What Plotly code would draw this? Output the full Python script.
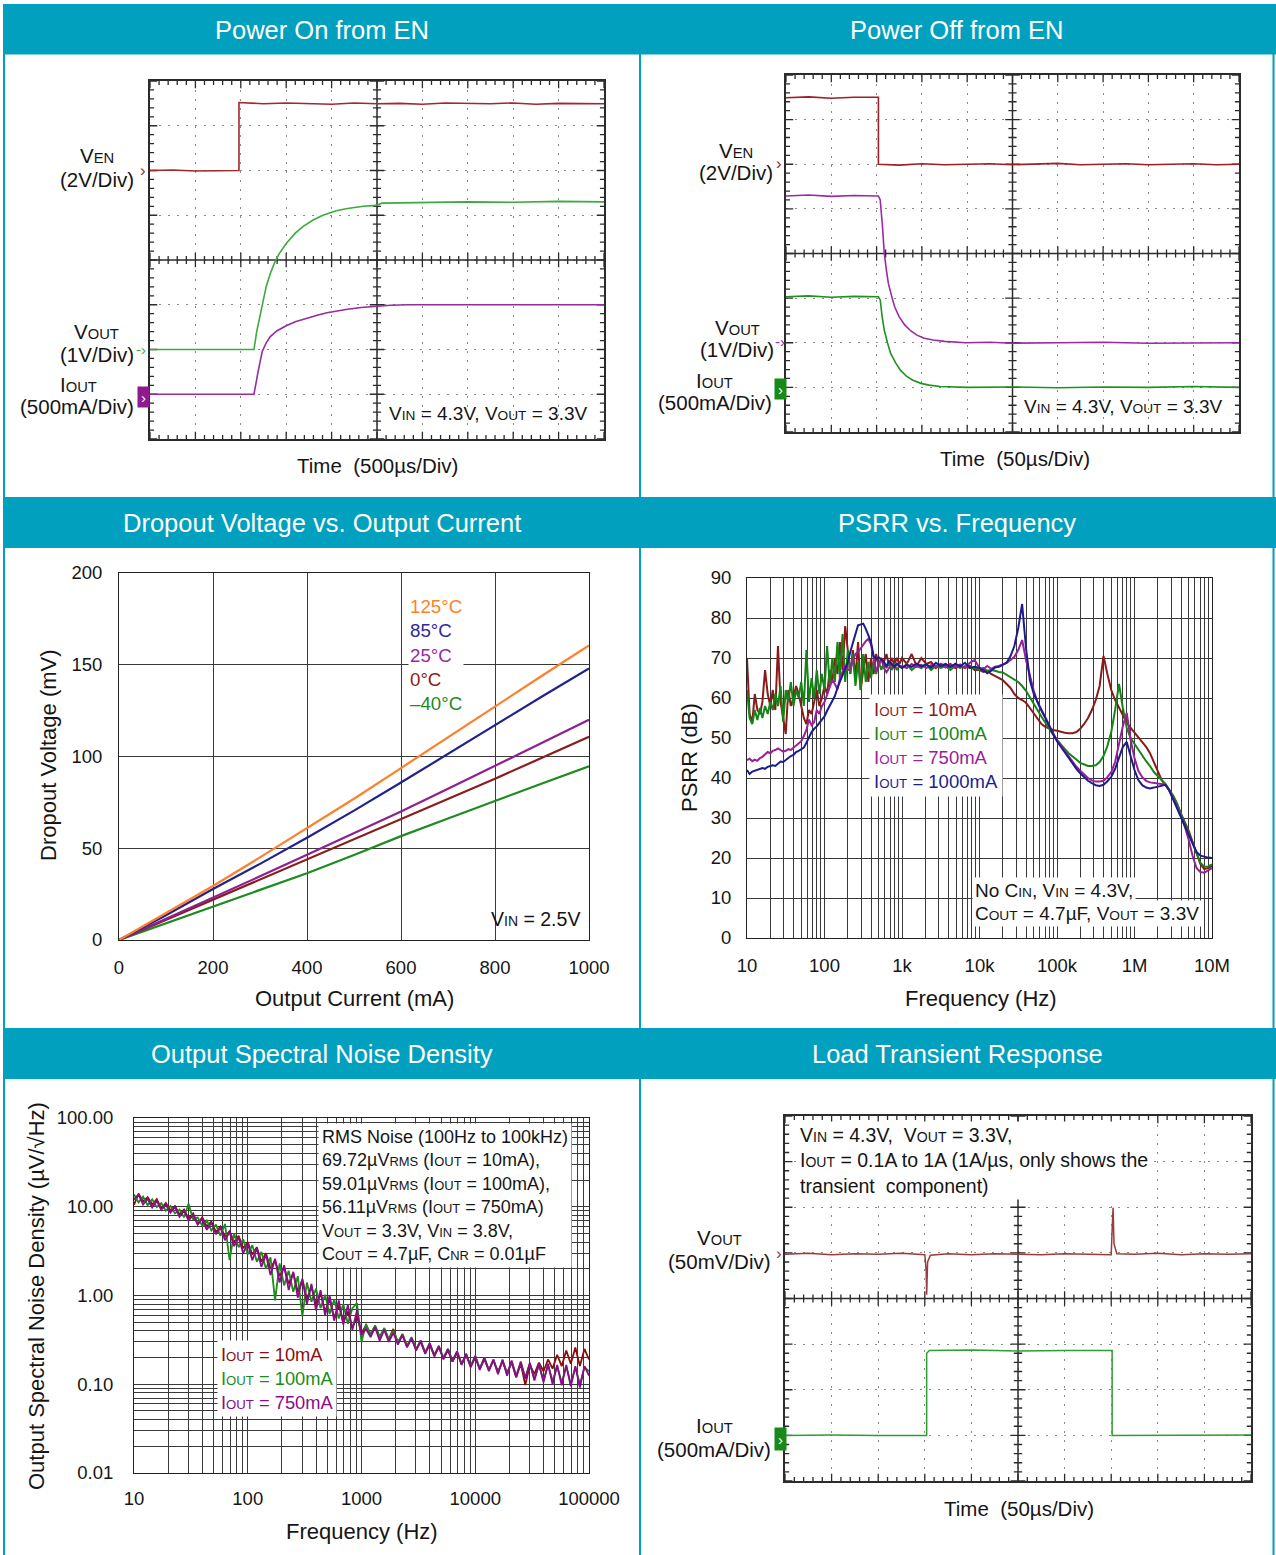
import plotly.graph_objects as go

W, H = 1276, 1555
TEAL = "#00A0BE"
FONT = "Liberation Sans, Arial, Helvetica, sans-serif"
INK = "#151515"

# ============================ DATA ============================
# --- Power On from EN (oscilloscope divisions: x 0-10, y 0-8)
on_ven_t = [0, 0.5, 1.0, 1.5, 1.96, 1.96, 2.5, 3.0, 3.5, 4.0, 4.5, 5.0, 5.5, 6.0, 6.5, 7.0, 7.5, 8.0, 8.5, 9.0, 9.5, 10.0]
on_ven_v = [6.0, 6.01, 5.99, 6.0, 6.0, 7.52, 7.49, 7.51, 7.5, 7.48, 7.51, 7.49, 7.5, 7.48, 7.51, 7.5, 7.49, 7.51, 7.48, 7.5, 7.5, 7.49]
on_vout_t = [0, 1.0, 2.0, 2.29, 2.35, 2.42, 2.5, 2.56, 2.65, 2.74, 2.85, 3.0, 3.2, 3.36, 3.6, 3.81, 4.1, 4.35, 4.7, 4.98, 5.11, 6.0, 7.0, 8.0, 9.0, 10.0]
on_vout_v = [2.0, 2.0, 2.01, 2.0, 2.4, 2.74, 3.1, 3.41, 3.7, 3.93, 4.15, 4.37, 4.6, 4.74, 4.9, 5.0, 5.1, 5.15, 5.2, 5.22, 5.27, 5.28, 5.3, 5.29, 5.31, 5.3]
on_iout_t = [0, 1.0, 2.0, 2.29, 2.38, 2.47, 2.56, 2.65, 2.8, 3.0, 3.2, 3.45, 3.7, 3.9, 4.1, 4.35, 4.65, 4.98, 5.3, 5.7, 6.5, 7.5, 8.5, 10.0]
on_iout_v = [1.0, 1.0, 1.01, 1.0, 1.5, 1.95, 2.15, 2.29, 2.42, 2.53, 2.62, 2.7, 2.77, 2.82, 2.86, 2.9, 2.94, 2.97, 2.99, 3.0, 3.0, 3.01, 3.0, 3.0]

# --- Power Off from EN
off_ven_t = [0, 0.5, 1.0, 1.5, 2.04, 2.04, 2.5, 3.0, 3.5, 4.0, 4.5, 5.0, 5.5, 6.0, 6.5, 7.0, 7.5, 8.0, 8.5, 9.0, 9.5, 10.0]
off_ven_v = [7.49, 7.51, 7.48, 7.5, 7.5, 6.0, 5.98, 6.01, 5.99, 6.0, 6.01, 5.99, 6.0, 6.02, 5.99, 6.0, 6.01, 5.99, 6.0, 6.01, 5.99, 6.0]
off_vout_t = [0, 0.5, 1.0, 1.5, 2.04, 2.08, 2.13, 2.17, 2.22, 2.26, 2.33, 2.4, 2.5, 2.62, 2.75, 2.89, 3.05, 3.25, 3.5, 3.96, 4.5, 5.0, 6.0, 7.0, 8.0, 9.0, 10.0]
off_vout_v = [5.29, 5.31, 5.28, 5.3, 5.29, 5.2, 4.6, 4.0, 3.6, 3.33, 3.05, 2.8, 2.58, 2.4, 2.27, 2.17, 2.1, 2.06, 2.03, 2.0, 2.01, 1.99, 2.0, 2.01, 1.99, 2.0, 2.0]
off_iout_t = [0, 0.5, 1.0, 1.5, 2.04, 2.08, 2.12, 2.17, 2.24, 2.31, 2.42, 2.53, 2.66, 2.8, 2.98, 3.16, 3.4, 3.6, 4.0, 5.0, 6.0, 7.0, 8.0, 9.0, 10.0]
off_iout_v = [3.03, 3.05, 3.02, 3.04, 3.03, 2.96, 2.6, 2.28, 2.0, 1.76, 1.55, 1.38, 1.25, 1.16, 1.09, 1.05, 1.02, 1.01, 1.0, 1.01, 0.99, 1.01, 1.0, 1.02, 1.0]

# --- Load Transient Response
lt_vout_t = [0, 0.5, 1.0, 1.5, 2.0, 2.5, 3.0, 3.03, 3.04, 3.06, 3.12, 3.5, 4.0, 4.5, 5.0, 5.5, 6.0, 6.5, 7.0, 7.02, 7.04, 7.06, 7.12, 7.5, 8.0, 8.5, 9.0, 9.5, 10.0]
lt_vout_v = [4.97, 4.99, 4.96, 4.98, 4.97, 4.99, 4.96, 4.6, 4.08, 4.8, 4.95, 4.98, 4.96, 4.98, 4.97, 4.96, 4.98, 4.97, 4.96, 5.5, 5.99, 5.2, 4.98, 4.97, 4.99, 4.96, 4.98, 4.97, 4.98]
lt_iout_t = [0, 1.0, 2.0, 3.04, 3.04, 3.1, 4.0, 5.0, 6.0, 7.02, 7.02, 7.1, 8.0, 9.0, 10.0]
lt_iout_v = [1.0, 1.01, 1.0, 1.0, 2.8, 2.86, 2.87, 2.85, 2.86, 2.86, 1.0, 1.0, 1.01, 1.0, 1.01]

# --- Dropout Voltage vs. Output Current
do_current = [0, 100, 200, 300, 400, 500, 600, 700, 800, 900, 1000]
do_125 = [0, 14.5, 29.4, 45.0, 60.8, 77.0, 93.7, 110.5, 127.4, 144.0, 160.5]
do_85 = [0, 13.5, 27.8, 41.5, 55.7, 70.5, 85.8, 101.5, 117.3, 132.7, 148.0]
do_25 = [0, 11.5, 23.0, 34.7, 46.5, 58.2, 70.0, 82.4, 94.9, 107.5, 120.0]
do_0 = [0, 11.0, 22.0, 32.8, 43.8, 54.8, 65.8, 76.8, 87.9, 99.3, 110.8]
do_m40 = [0, 9.0, 18.0, 27.0, 36.4, 46.3, 56.6, 66.2, 75.9, 85.3, 94.7]

# --- PSRR vs. Frequency
psrr_freq = [
    10, 10.8, 11.7, 12.6, 13.6, 14.7, 15.8, 17.1, 18.5, 20.0, 21.5, 23.2, 25.1, 27.1, 29.3,
    31.6, 34.1, 36.8, 39.8, 43.0, 46.4, 50.1, 54.1, 58.4, 63.1, 68.1, 73.6, 79.4, 85.8, 92.6,
    100, 108, 117, 126, 136, 147, 158, 171, 185, 200, 215, 232, 251, 271, 293,
    316, 341, 368, 398, 430, 464, 501, 541, 584, 631, 681, 736, 794, 858, 926,
    1000, 1155, 1334, 1540, 1778, 2054, 2371, 2738, 3162, 3652, 4217, 4870, 5623, 6494, 7499, 8660,
    10000, 11220, 12589, 14125, 15849, 17783, 19953, 22387, 25119, 28184, 31623, 35481, 39811, 44668, 50119,
    56234, 63096, 70795, 79433, 89125, 100000, 112202, 125893, 141254, 158489, 177828, 199526, 223872, 251189, 281838,
    316228, 354813, 398107, 446684, 501187, 562341, 630957, 707946, 794328, 891251, 1000000, 1122018, 1258925, 1412538, 1584893,
    1778279, 1995262, 2238721, 2511886, 2818383, 3162278, 3548134, 3981072, 4466836, 5011872, 5623413, 6309573, 7079458, 7943282, 8912509,
    10000000]
psrr_10mA = [
    70, 56, 54, 61, 57, 56, 59, 67, 61, 58, 62, 57, 73, 59, 55, 51, 62, 58, 60, 63,
    61, 58, 55, 53.5, 57, 56, 59, 62, 58, 60, 63, 61, 67, 64, 70, 66, 74, 67, 78, 71,
    66, 72, 65, 74, 62, 67, 71, 64, 70, 66, 71, 68, 70, 69, 71, 68, 70, 68.5, 70, 68.5,
    70, 68.5, 71, 68, 70, 68.5, 69, 67.5, 68.5, 68, 68.5, 67.5, 68, 67.5, 68, 67,
    67, 66.5, 66.8, 66, 65.5, 65, 64.5, 63.5, 62.5, 61, 60, 59.5, 58.8, 57.5, 56.2,
    55, 53.5, 52.8, 52.3, 52, 51.8, 51.5, 51.3, 51.2, 51.2, 51.5, 52.3, 53.5, 55, 57,
    59.5, 63, 70.5, 66, 62, 59.5, 57.5, 55.5, 53.8, 52.5, 51.3, 50.2, 49, 47.8, 46.2,
    44, 41.5, 39.5, 38.2, 37, 35.5, 33.5, 31, 29, 26.8, 24, 21.5, 18.5, 17.2, 17.5, 18]
psrr_100mA = [
    62, 55, 53.5, 57, 54.5, 57.5, 55, 58, 56, 59, 57, 61, 58, 63, 54, 62, 59, 64, 58, 62,
    60, 64, 58, 72, 59, 65, 60, 67, 61, 66, 62, 73, 63, 70, 64, 74, 65, 76, 64, 72,
    66, 71, 63, 69, 62, 71, 64, 69, 65, 69, 66, 69, 67, 69, 67.5, 69, 67, 68.5, 67, 68,
    67.5, 68.5, 67, 68, 67.5, 68.5, 67, 68, 67.5, 68, 67, 68, 67.5, 68, 67.5, 67.5,
    67, 67.5, 66.8, 67, 66.8, 66.5, 66.4, 65.8, 65.2, 64.6, 64, 63, 61.8, 60.2, 58.5,
    57, 55.3, 53.8, 52.2, 50.8, 49.5, 48.5, 47.3, 46.2, 45.3, 44.6, 43.8, 43.3, 43, 43,
    43.2, 44, 45.5, 48, 51.5, 57, 63.5, 57.5, 52.5, 50, 48.5, 47, 45.5, 44.2, 43,
    41.5, 40.5, 39.5, 38.5, 37, 35.5, 33.5, 31, 28.5, 26.3, 23.5, 20.8, 18.8, 17.8, 17.9, 18.4]
psrr_750mA = [
    44.5, 44.8, 44.2, 44.6, 44.3, 45.0, 45.3, 45.8, 46.5, 46.2, 46.8, 47.0, 47.4, 47.0, 46.6,
    46.8, 47.2, 47.0, 47.5, 48.0, 48.6, 49.2, 50.5, 52.0, 54.6, 53.2, 54.0, 57.0, 56.0, 58.0,
    59.0, 61.0, 62.5, 64.5, 63.5, 62.2, 65.0, 66.5, 68.0, 67.0, 67.2, 69.5, 71.0, 71.5, 72.5,
    73.5, 74.2, 74.8, 73.5, 70.0, 66.5, 68.5, 69.8, 67.5, 66.4, 67.5, 68.5, 67.5, 68.5, 67.8,
    68, 67.5, 68.5, 67.8, 68.3, 67.5, 68.2, 67.8, 68.5, 67.6, 68.2, 67.8, 68.4, 67.5, 68.8, 69.5,
    67.5, 67.2, 68.0, 67.3, 67.8, 68.0, 68.4, 68.8, 69.5, 70.3, 72.0, 74.5, 69.5, 65.3, 61.8,
    59.0, 57.0, 55.0, 53.0, 51.2, 49.5, 48.2, 46.8, 45.5, 44.0, 42.8, 41.8, 40.8, 40.0, 39.4,
    39.1, 39.1, 39.3, 40.2, 41.5, 44.0, 48.5, 53.0, 56.3, 49.5, 45.0, 41.8, 40.2, 39.3, 38.9,
    38.7, 38.6, 38.5, 38.3, 36.8, 35.0, 32.8, 30.5, 27.8, 24.5, 20.5, 17.5, 16.5, 16.3, 16.8, 17.5]
psrr_1000mA = [
    42.0, 41.0, 41.6, 41.8, 42.0, 42.2, 42.5, 42.3, 42.8, 43.0, 43.2, 43.0, 43.6, 44.1, 44.0,
    44.5, 45.2, 45.5, 45.8, 46.5, 46.8, 47.2, 47.6, 48.8, 50.4, 51.5, 52.3, 52.9, 53.8, 54.6,
    55.4, 56.8, 58.0, 59.0, 60.5, 62.5, 64.0, 65.5, 67.5, 69.0, 71.5, 73.5, 76.0, 78.2, 78.5,
    78.6, 77.3, 75.5, 74.0, 70.5, 69.8, 70.2, 69.5, 69.0, 68.0, 69.2, 68.5, 67.8, 68.6, 68.0,
    67.5, 68.3, 67.8, 68.6, 67.9, 68.4, 67.6, 68.8, 68.0, 68.5, 67.7, 68.6, 67.9, 68.8, 67.5, 67.8,
    67.5, 67.0, 66.2, 66.8, 67.6, 67.8, 68.2, 68.8, 70.5, 73.0, 77.5, 83.5, 72.5, 64.5, 61.0,
    58.8, 56.8, 55.0, 52.8, 51.0, 49.2, 47.8, 46.2, 44.8, 43.6, 42.3, 41.2, 40.2, 39.3, 38.7,
    38.2, 38.0, 38.3, 39.2, 40.3, 42.3, 45.0, 47.8, 49.0, 45.5, 42.0, 39.5, 38.2, 37.6, 37.4,
    37.6, 37.8, 38.0, 38.3, 36.8, 34.5, 32.5, 30.2, 28.0, 25.8, 23.5, 21.5, 20.6, 20.3, 20.1, 20.0]

# --- Output Spectral Noise Density
noise_freq = [
    10, 10.96, 12.02, 13.18, 14.45, 15.85, 17.38, 19.05, 20.89, 22.91, 25.12, 27.54, 30.2, 33.11, 36.31,
    39.81, 43.65, 47.86, 52.48, 57.54, 63.1, 69.18, 75.86, 83.18, 91.2,
    100, 109.6, 120.2, 131.8, 144.5, 158.5, 173.8, 190.5, 208.9, 229.1, 251.2, 275.4, 302, 331.1, 363.1,
    398.1, 436.5, 478.6, 524.8, 575.4, 631, 691.8, 758.6, 831.8, 912,
    1000, 1096, 1202, 1318, 1445, 1585, 1738, 1905, 2089, 2291, 2512, 2754, 3020, 3311, 3631,
    3981, 4365, 4786, 5248, 5754, 6310, 6918, 7586, 8318, 9120,
    10000, 10960, 12020, 13180, 14450, 15850, 17380, 19050, 20890, 22910, 25120, 27540, 30200, 33110, 36310,
    39810, 43650, 47860, 52480, 57540, 63100, 69180, 75860, 83180, 91200,
    100000]
noise_10mA = [
    10.5, 14.0, 11.5, 12.8, 10.6, 12.2, 9.6, 11.0, 9.1, 10.2, 8.2, 9.3, 7.4, 8.4, 6.4, 7.6, 6.0, 6.8, 5.2, 6.0,
    4.6, 5.3, 4.0, 4.7, 3.4, 4.0, 2.9, 3.5, 2.4, 3.0, 2.0, 2.5, 1.65, 2.1, 1.35, 1.8, 1.1, 1.5, 0.92, 1.25,
    0.78, 1.05, 0.66, 0.9, 0.56, 0.78, 0.5, 0.66, 0.43, 0.58, 0.38, 0.46, 0.37, 0.45, 0.34, 0.42, 0.32, 0.42, 0.29, 0.36,
    0.27, 0.33, 0.245, 0.3, 0.225, 0.28, 0.21, 0.26, 0.195, 0.24, 0.18, 0.225, 0.17, 0.21, 0.16, 0.2, 0.15, 0.19, 0.145, 0.185,
    0.14, 0.18, 0.135, 0.175, 0.12, 0.17, 0.098, 0.165, 0.13, 0.175, 0.14, 0.19, 0.15, 0.215, 0.16, 0.24, 0.17, 0.26, 0.16, 0.25,
    0.19]
noise_100mA = [
    13.8, 11.2, 13.0, 10.4, 12.1, 9.9, 11.0, 9.0, 10.2, 8.4, 9.3, 7.6, 10.8, 7.2, 7.6, 6.1, 7.0, 5.4, 6.3, 4.7,
    6.4, 2.5, 5.0, 3.5, 4.3, 2.9, 3.7, 2.4, 3.1, 2.0, 2.7, 0.88, 2.3, 1.3, 1.9, 1.1, 1.65, 0.58, 1.4, 0.85,
    1.2, 0.72, 1.02, 0.62, 0.9, 0.55, 0.8, 0.48, 0.72, 0.82, 0.3, 0.48, 0.36, 0.46, 0.34, 0.43, 0.32, 0.4, 0.3, 0.37,
    0.27, 0.34, 0.25, 0.31, 0.23, 0.29, 0.215, 0.27, 0.2, 0.25, 0.185, 0.235, 0.17, 0.22, 0.16, 0.21, 0.15, 0.2, 0.145, 0.19,
    0.135, 0.185, 0.13, 0.18, 0.125, 0.175, 0.12, 0.17, 0.115, 0.165, 0.11, 0.165, 0.108, 0.16, 0.105, 0.16, 0.1, 0.155, 0.1, 0.155,
    0.14]
noise_750mA = [
    12.0, 13.8, 10.6, 12.3, 9.8, 11.6, 9.2, 10.6, 8.6, 9.9, 7.7, 9.0, 7.0, 8.1, 6.3, 7.3, 5.5, 6.6, 4.9, 5.8,
    4.2, 5.2, 3.6, 4.5, 3.0, 3.9, 2.5, 3.4, 2.1, 2.9, 1.7, 2.6, 1.4, 2.2, 1.15, 1.85, 0.95, 1.55, 0.8, 1.35,
    0.68, 1.15, 0.6, 1.0, 0.52, 0.88, 0.47, 0.78, 0.41, 0.68, 0.36, 0.42, 0.34, 0.44, 0.31, 0.41, 0.3, 0.38, 0.28, 0.36,
    0.26, 0.33, 0.24, 0.31, 0.22, 0.29, 0.205, 0.27, 0.19, 0.25, 0.18, 0.235, 0.165, 0.22, 0.155, 0.205, 0.145, 0.2, 0.14, 0.19,
    0.13, 0.19, 0.125, 0.185, 0.12, 0.18, 0.115, 0.175, 0.11, 0.17, 0.105, 0.17, 0.1, 0.165, 0.097, 0.165, 0.095, 0.16, 0.092, 0.16,
    0.125]

for arr in (psrr_10mA, psrr_100mA, psrr_750mA, psrr_1000mA):
    assert len(arr) == len(psrr_freq), (len(arr), len(psrr_freq))
for arr in (noise_10mA, noise_100mA, noise_750mA):
    assert len(arr) == len(noise_freq), (len(arr), len(noise_freq))

# ============================ STYLE / LAYOUT ============================
BOX = {1: (150, 81, 604, 439), 2: (786, 75, 1239, 432), 3: (119, 573, 589, 940),
       4: (747, 578, 1212, 938), 5: (134, 1118, 589, 1473), 6: (785, 1116, 1251, 1481)}


def sfx(n):
    return "" if n == 1 else str(n)


def dom(n):
    x0, y0, x1, y1 = BOX[n]
    return [x0 / W, x1 / W], [1 - y1 / H, 1 - y0 / H]


def sb(t):
    return f'<span style="font-size:72%">{t}</span>'


def A(text, x, y, size=19, color=INK, xa="center", ya="middle", **kw):
    d = dict(text=text, x=x / W, y=1 - y / H, xref="paper", yref="paper", showarrow=False,
             font=dict(family=FONT, size=size, color=color), xanchor=xa, yanchor=ya)
    d.update(kw)
    return d


fig = go.Figure()


def add(n, x, y, color, width):
    fig.add_trace(go.Scatter(x=x, y=y, mode="lines", line=dict(color=color, width=width),
                             xaxis="x" + sfx(n), yaxis="y" + sfx(n), showlegend=False, hoverinfo="skip"))


RED_S, GRN_S, PUR_S = "#A3282C", "#3DAA3D", "#962A9E"
add(1, on_ven_t, on_ven_v, RED_S, 1.6)
add(1, on_vout_t, on_vout_v, GRN_S, 1.6)
add(1, on_iout_t, on_iout_v, PUR_S, 1.6)

add(2, off_ven_t, off_ven_v, "#9E1F24", 1.6)
add(2, off_vout_t, off_vout_v, "#9A2AA4", 1.6)
add(2, off_iout_t, off_iout_v, "#1F921F", 1.6)

add(3, do_current, do_m40, "#1F8A1F", 2.2)
add(3, do_current, do_0, "#8B1C1C", 2.2)
add(3, do_current, do_25, "#8E2090", 2.2)
add(3, do_current, do_85, "#22228C", 2.2)
add(3, do_current, do_125, "#FF7F2A", 2.2)

add(4, psrr_freq, psrr_10mA, "#8B1A1A", 2)
add(4, psrr_freq, psrr_100mA, "#178417", 2)
add(4, psrr_freq, psrr_750mA, "#9A209A", 2)
add(4, psrr_freq, psrr_1000mA, "#1C1C8C", 2)

add(5, noise_freq, noise_10mA, "#8B0D0D", 1.8)
add(5, noise_freq, noise_100mA, "#1A8C1A", 1.8)
add(5, noise_freq, noise_750mA, "#8B0B8B", 1.8)

add(6, lt_vout_t, lt_vout_v, "#9C3B3B", 1.5)
add(6, lt_iout_t, lt_iout_v, "#2E9E2E", 1.5)

layout = dict(width=W, height=H, autosize=False,
              margin=dict(l=0, r=0, t=0, b=0, pad=0, autoexpand=False), paper_bgcolor="white",
              plot_bgcolor="white", showlegend=False, font=dict(family=FONT, color=INK))

tickfont = dict(family=FONT, size=18.5, color=INK)


def scope_axes(n):
    dx, dy = dom(n)
    s = sfx(n)
    common = dict(showgrid=True, gridcolor="#8a8a8a", gridwidth=1, griddash="1.5px,7.5px",
                  zeroline=False, showticklabels=False, ticks="", showline=True, automargin=False,
                  linecolor="#2b2b2b", linewidth=2, mirror=True, fixedrange=True, dtick=1, tick0=0)
    layout["xaxis" + s] = dict(domain=dx, range=[0, 10], anchor="y" + s, **common)
    layout["yaxis" + s] = dict(domain=dy, range=[0, 8], anchor="x" + s, **common)


for n in (1, 2, 6):
    scope_axes(n)

plain = dict(showgrid=True, gridcolor="#3a3a3a", gridwidth=1, zeroline=False, showline=True, automargin=False,
             linecolor="#222", linewidth=1, mirror=True, ticks="", tickfont=tickfont, fixedrange=True)

dx, dy = dom(3)
layout["xaxis3"] = dict(domain=dx, range=[0, 1000], tickvals=[0, 200, 400, 600, 800, 1000], anchor="y3",
                        ticklabelstandoff=11, **plain)
layout["yaxis3"] = dict(domain=dy, range=[0, 200], tickvals=[0, 50, 100, 150, 200], anchor="x3",
                        ticklabelstandoff=12, **plain)

# log grid positions (1..9 per decade)
psrr_ticks = [m * 10 ** e for e in range(1, 7) for m in range(1, 10)] + [10 ** 7]
psrr_lbl = {10: "10", 100: "100", 1000: "1k", 10 ** 4: "10k", 10 ** 5: "100k", 10 ** 6: "1M", 10 ** 7: "10M"}
dx, dy = dom(4)
layout["xaxis4"] = dict(domain=dx, type="log", range=[1, 7], tickvals=psrr_ticks,
                        ticktext=[psrr_lbl.get(v, "") for v in psrr_ticks], anchor="y4",
                        ticklabelstandoff=11, **plain)
layout["yaxis4"] = dict(domain=dy, range=[0, 90], tickvals=list(range(0, 91, 10)), anchor="x4",
                        ticklabelstandoff=11, **plain)

nx_ticks = [m * 10 ** e for e in range(1, 5) for m in range(1, 10)] + [10 ** 5]
nx_lbl = {10: "10", 100: "100", 1000: "1000", 10 ** 4: "10000", 10 ** 5: "100000"}
ny_ticks = [m * 10.0 ** e for e in range(-2, 2) for m in range(1, 10)] + [100.0]
ny_lbl = {0: "0.01", 9: "0.10", 18: "1.00", 27: "10.00", 36: "100.00"}
dx, dy = dom(5)
layout["xaxis5"] = dict(domain=dx, type="log", range=[1, 5], tickvals=nx_ticks,
                        ticktext=[nx_lbl.get(v, "") for v in nx_ticks], anchor="y5",
                        ticklabelstandoff=9, **plain)
layout["yaxis5"] = dict(domain=dy, type="log", range=[-2, 2], tickvals=ny_ticks,
                        ticktext=[ny_lbl.get(i, "") for i in range(len(ny_ticks))], anchor="x5",
                        ticklabelstandoff=16, **plain)

# ---------------- shapes ----------------
shapes = []


def prect(x0, y0, x1, y1):
    shapes.append(dict(type="rect", xref="paper", yref="paper", x0=x0 / W, x1=x1 / W,
                       y0=1 - y1 / H, y1=1 - y0 / H, fillcolor=TEAL, line=dict(width=0), layer="below"))


prect(3, 4, W, 54.5)
prect(3, 497, W, 548)
prect(3, 1028, W, 1079)
prect(3, 4, 5, H)
prect(639, 4, 641, H)
prect(1272.5, 4, 1274.5, H)


def scope_tick_path():
    parts = []
    for i in range(51):
        x = round(i * 0.2, 2)
        ly = 0.16 if i % 5 == 0 else 0.09
        parts.append(f"M{x},0 L{x},{ly}")
        parts.append(f"M{x},8 L{x},{8 - ly}")
        parts.append(f"M{x},{4 - ly} L{x},{4 + ly}")
    for j in range(41):
        y = round(j * 0.2, 2)
        lx = 0.16 if j % 5 == 0 else 0.09
        parts.append(f"M0,{y} L{lx},{y}")
        parts.append(f"M10,{y} L{10 - lx},{y}")
        parts.append(f"M{5 - lx},{y} L{5 + lx},{y}")
    return " ".join(parts)


TP = scope_tick_path()
for n in (1, 2, 6):
    s = sfx(n)
    shapes.append(dict(type="path", path=TP, xref="x" + s, yref="y" + s,
                       line=dict(color="#2b2b2b", width=1.3), layer="between"))
    shapes.append(dict(type="line", xref="x" + s, yref="y" + s, x0=5, x1=5, y0=0, y1=8,
                       line=dict(color="#2b2b2b", width=1.5), layer="between"))
    shapes.append(dict(type="line", xref="x" + s, yref="y" + s, x0=0, x1=10, y0=4, y1=4,
                       line=dict(color="#2b2b2b", width=1.5), layer="between"))

layout["shapes"] = shapes

# ---------------- annotations ----------------
ann = []
TS = 25.5
ann += [A("Power On from EN", 322, 29.5, TS, "white"), A("Power Off from EN", 957, 29.5, TS, "white"),
        A("Dropout Voltage vs. Output Current", 322, 522.5, TS, "white"),
        A("PSRR vs. Frequency", 957, 522.5, TS, "white"),
        A("Output Spectral Noise Density", 322, 1053.5, TS, "white"),
        A("Load Transient Response", 957, 1053.5, TS, "white")]

LS = 20.5
# Power On labels
ann += [A(f"V{sb('EN')}", 97, 156, LS), A("(2V/Div)", 97, 180, LS), A("›", 143, 170, 17, RED_S),
        A(f"V{sb('OUT')}", 97, 331, LS), A("(1V/Div)", 97, 355, LS), A("-›", 141, 349, 15, GRN_S),
        A(f"I{sb('OUT')}", 78, 384, LS), A("(500mA/Div)", 77, 406, LS),
        A("›", 143, 397, 15, "white", bgcolor="#8E1A8E", width=11, height=20, borderpad=0),
        A(f"V{sb('IN')} = 4.3V, V{sb('OUT')} = 3.3V", 387, 413, 19, xa="left"),
        A("Time\u00a0\u00a0(500µs/Div)", 377, 465, LS)]
# Power Off labels
ann += [A(f"V{sb('EN')}", 736, 151, LS), A("(2V/Div)", 736, 173, LS), A("›", 779, 163, 17, "#9E1F24"),
        A(f"V{sb('OUT')}", 737, 327, LS), A("(1V/Div)", 737, 350, LS), A("-›", 780, 342, 15, "#9A2AA4"),
        A(f"I{sb('OUT')}", 715, 380, LS), A("(500mA/Div)", 715, 403, LS),
        A("›", 781, 389, 15, "white", bgcolor="#178A17", width=11, height=20, borderpad=0),
        A(f"V{sb('IN')} = 4.3V, V{sb('OUT')} = 3.3V", 1022, 407, 19, xa="left"),
        A("Time\u00a0\u00a0(50µs/Div)", 1015, 459, LS)]
# Dropout
do_leg = ('<span style="color:#FF7F2A">125°C</span><br><span style="color:#2B2B9A">85°C</span><br>'
          '<span style="color:#9A2A9A">25°C</span><br><span style="color:#8B1C1C">0°C</span><br>'
          '<span style="color:#1F8A1F">–40°C</span>')
ann += [A(do_leg, 408, 655, 18.7, xa="left", align="left", bgcolor="white", borderpad=1),
        A(f"V{sb('IN')} = 2.5V", 489, 919, 19.5, xa="left"),
        A("Dropout Voltage (mV)", 48, 755, 22, textangle=-90),
        A("Output Current (mA)", 354, 999, 22)]
# PSRR
ps_leg = (f'<span style="color:#8B1A1A">I{sb("OUT")} = 10mA</span><br>'
          f'<span style="color:#178417">I{sb("OUT")} = 100mA</span><br>'
          f'<span style="color:#9A209A">I{sb("OUT")} = 750mA</span><br>'
          f'<span style="color:#1C1C8C">I{sb("OUT")} = 1000mA</span>')
ann += [A(ps_leg, 869, 745, 18.5, xa="left", align="left", bgcolor="white", borderpad=4),
        A(f"No C{sb('IN')}, V{sb('IN')} = 4.3V,", 972, 890, 19, xa="left", bgcolor="white", borderpad=2),
        A(f"C{sb('OUT')} = 4.7µF, V{sb('OUT')} = 3.3V", 972, 913, 19, xa="left", bgcolor="white", borderpad=2),
        A("PSRR (dB)", 689, 758, 22, textangle=-90),
        A("Frequency (Hz)", 981, 998, 22)]
# Noise
nz_box = ("RMS Noise (100Hz to 100kHz)<br>"
          f"69.72µV{sb('RMS')} (I{sb('OUT')} = 10mA),<br>"
          f"59.01µV{sb('RMS')} (I{sb('OUT')} = 100mA),<br>"
          f"56.11µV{sb('RMS')} (I{sb('OUT')} = 750mA)<br>"
          f"V{sb('OUT')} = 3.3V, V{sb('IN')} = 3.8V,<br>"
          f"C{sb('OUT')} = 4.7µF, C{sb('NR')} = 0.01µF")
nz_leg = (f'<span style="color:#8B0D0D">I{sb("OUT")} = 10mA</span><br>'
          f'<span style="color:#1A8C1A">I{sb("OUT")} = 100mA</span><br>'
          f'<span style="color:#8B0B8B">I{sb("OUT")} = 750mA</span>')
ann += [A(nz_box, 318, 1195, 18, xa="left", align="left", bgcolor="white", borderpad=3),
        A(nz_leg, 217, 1378, 18.3, xa="left", align="left", bgcolor="white", borderpad=3),
        A("Output Spectral Noise Density (µV/√Hz)", 36, 1296, 22, textangle=-90),
        A("Frequency (Hz)", 362, 1531, 22)]
# Load transient
lt_txt = (f"V{sb('IN')} = 4.3V,  V{sb('OUT')} = 3.3V,<br>"
          f"I{sb('OUT')} = 0.1A to 1A (1A/µs, only shows the<br>"
          "transient  component)")
ann += [A(lt_txt, 797, 1160, 19.5, xa="left", align="left", bgcolor="white", borderpad=2),
        A(f"V{sb('OUT')}", 720, 1237, LS), A("(50mV/Div)", 720, 1261, LS), A("›", 779, 1253, 17, "#9C3B3B"),
        A(f"I{sb('OUT')}", 714, 1425, LS), A("(500mA/Div)", 714, 1449, LS),
        A("›", 780, 1439, 15, "white", bgcolor="#178A17", width=11, height=22, borderpad=0),
        A("Time\u00a0\u00a0(50µs/Div)", 1019, 1508, LS)]

layout["annotations"] = ann
fig.update_layout(**layout)

POST = ("document.body.style.margin='0px';"
        "document.documentElement.style.overflow='hidden';"
        "document.body.style.overflow='hidden';")
fig.write_html("out.html", config={"displayModeBar": False}, post_script=POST)
